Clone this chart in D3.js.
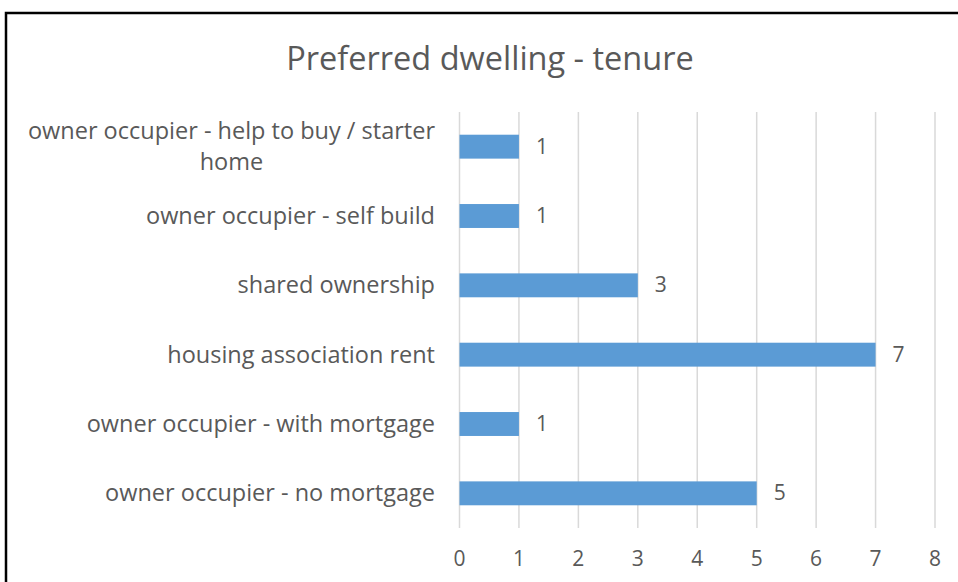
<!DOCTYPE html>
<html>
<head>
	<title>Preferred dwelling - tenure</title>
	<script src="https://d3js.org/d3.v7.min.js"></script>
	<style>
	body{
		margin: 0;
		background: #ffffff;
	}
	text{
		font-family: "Open Sans", Arial, sans-serif;
		fill: #595959;
	}
	.grid line{
		stroke: #d9d9d9;
		stroke-width: 1.5;
	}
	.bar{
		fill: #5b9bd5;
	}
	</style>
</head>
<body>
	<div id="chart"></div>
	<script>
		// categories top to bottom, as in the picture
		var categories = [
			"owner occupier - help to buy / starter home",
			"owner occupier - self build",
			"shared ownership",
			"housing association rent",
			"owner occupier - with mortgage",
			"owner occupier - no mortgage"
		];
		var values = [1, 1, 3, 7, 1, 5];
		var xTicks = [0, 1, 2, 3, 4, 5, 6, 7, 8];
		var title = "Preferred dwelling - tenure";

		var width = 958,
			height = 582;
		var margin = {top: 112, right: 23, bottom: 54, left: 459.5};

		var svg = d3.select("#chart")
			.append("svg")
			.attr("width", width)
			.attr("height", height);

		// chart border
		svg.append("rect")
			.attr("x", 6)
			.attr("y", 13)
			.attr("width", 970)
			.attr("height", 600)
			.attr("fill", "none")
			.attr("stroke", "#000")
			.attr("stroke-width", 2.5);

		svg.append("text")
			.attr("x", 490)
			.attr("y", 70)
			.attr("text-anchor", "middle")
			.style("font-size", "32.5px")
			.text(title);

		var x = d3.scaleLinear()
			.domain([0, 8])
			.range([margin.left, width - margin.right]);

		var y = d3.scaleBand()
			.domain(categories)
			.range([margin.top, height - margin.bottom])
			.paddingInner(0.655)
			.paddingOuter(0.3275);

		// vertical gridlines
		svg.append("g")
			.attr("class", "grid")
			.selectAll("line")
			.data(xTicks)
			.enter().append("line")
			.attr("x1", function(d){return x(d);})
			.attr("x2", function(d){return x(d);})
			.attr("y1", margin.top)
			.attr("y2", height - margin.bottom);

		// x tick labels
		svg.append("g")
			.selectAll("text")
			.data(xTicks)
			.enter().append("text")
			.attr("x", function(d){return x(d);})
			.attr("y", 566)
			.attr("text-anchor", "middle")
			.style("font-size", "21px")
			.text(function(d){return d;});

		svg.append("g")
			.selectAll("rect")
			.data(values)
			.enter().append("rect")
			.attr("class", "bar")
			.attr("x", x(0))
			.attr("y", function(d, i){return y(categories[i]);})
			.attr("width", function(d){return x(d) - x(0);})
			.attr("height", y.bandwidth());

		// value labels
		svg.append("g")
			.selectAll("text")
			.data(values)
			.enter().append("text")
			.attr("x", function(d){return x(d) + 17;})
			.attr("y", function(d, i){return y(categories[i]) + y.bandwidth() / 2 + 7;})
			.style("font-size", "21px")
			.text(function(d){return d;});

		// category labels, wrapped when too wide
		var labelRight = 435, maxWidth = 420, lineHeight = 31;
		var labels = svg.append("g")
			.selectAll("text")
			.data(categories)
			.enter().append("text")
			.style("font-size", "23.5px")
			.attr("text-anchor", "end");

		labels.each(function(d){
			var t = d3.select(this);
			var words = d.split(" ");
			var lines = [], line = [];
			words.forEach(function(w){
				line.push(w);
				t.text(line.join(" "));
				if(this.getComputedTextLength() > maxWidth && line.length > 1){
					line.pop();
					lines.push(line.join(" "));
					line = [w];
				}
			}, this);
			lines.push(line.join(" "));
			t.text(null);
			var cy = y(d) + y.bandwidth() / 2 + 8 - (lines.length - 1) * lineHeight / 2;
			var full = 0;
			lines.forEach(function(l, i){
				var sp = t.append("tspan").text(l);
				if(i == 0) full = sp.node().getComputedTextLength();
			});
			t.selectAll("tspan").each(function(l, i){
				var sp = d3.select(this);
				if(i == 0){
					sp.attr("x", labelRight).attr("y", cy);
				} else{
					// further lines are centred under the first
					sp.attr("x", labelRight - full / 2)
						.attr("y", cy + i * lineHeight)
						.attr("text-anchor", "middle");
				}
			});
		});
	</script>
</body>
</html>
